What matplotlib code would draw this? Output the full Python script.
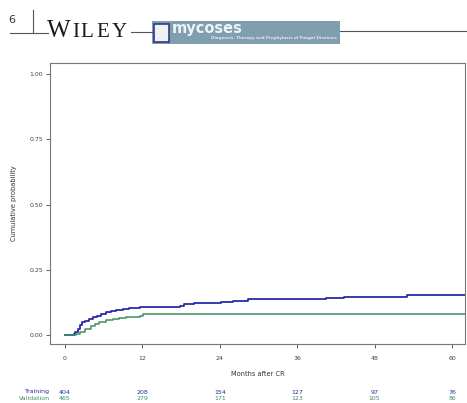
import matplotlib
matplotlib.use("Agg")
import matplotlib.pyplot as plt
from matplotlib.patches import Rectangle
from matplotlib.lines import Line2D
from matplotlib.transforms import blended_transform_factory

# ---- data ----
train_t = [0, 1.4, 1.6, 2.0, 2.4, 2.7, 3.2, 3.8, 4.3, 5.0, 5.6, 6.4, 7.2, 8.0, 9.0, 10.0, 11.6, 14.0, 17.9, 18.4, 20.0, 22.0, 24.2, 26.0, 28.4, 34.0, 40.4, 43.3, 53.0, 62.0]
train_p = [0, 0.005, 0.012, 0.025, 0.038, 0.050, 0.055, 0.062, 0.068, 0.074, 0.080, 0.087, 0.092, 0.096, 0.100, 0.103, 0.106, 0.108, 0.112, 0.120, 0.122, 0.124, 0.127, 0.130, 0.137, 0.137, 0.143, 0.147, 0.152, 0.152]
valid_t = [0, 1.7, 2.3, 3.2, 4.0, 4.7, 5.3, 6.3, 7.4, 8.4, 9.5, 10.5, 11.6, 12.1, 62.0]
valid_p = [0, 0.004, 0.012, 0.025, 0.035, 0.043, 0.050, 0.056, 0.062, 0.065, 0.068, 0.071, 0.075, 0.081, 0.081]

x_ticks = [0, 12, 24, 36, 48, 60]
y_ticks = [0.0, 0.25, 0.5, 0.75, 1.0]
y_ticklabels = ["0.00", "0.25", "0.50", "0.75", "1.00"]
risk_train = [404, 208, 154, 127, 97, 76]
risk_valid = [465, 279, 171, 123, 105, 86]

BLUE = "#2a2aa6"
GREEN = "#3f8f62"
W, H = 467, 403

fig = plt.figure(figsize=(W / 100, H / 100), dpi=100)
fig.patch.set_facecolor("white")

def fx(px):
    return px / W

def fy(py):
    return 1 - py / H

# ---- header ----
fig.text(fx(12), fy(20), "6", fontsize=8, ha="center", va="center", color="#333333")
fig.add_artist(Line2D([fx(33), fx(33)], [fy(10), fy(33)], color="#555555", lw=0.8))
fig.add_artist(Line2D([fx(10), fx(48)], [fy(33), fy(33)], color="#555555", lw=0.8))
for ch, px, fs in [("W", 47, 18), ("I", 72, 15), ("L", 80, 15), ("E", 96, 15), ("Y", 112, 15)]:
    fig.text(fx(px), fy(37), ch, fontsize=fs, family="Liberation Serif", ha="left", va="baseline", color="#1a1a1a")
fig.add_artist(Line2D([fx(131), fx(152)], [fy(32), fy(32)], color="#555555", lw=0.8))
fig.add_artist(Rectangle((fx(152), fy(44)), fx(340) - fx(152), fy(21) - fy(44), transform=fig.transFigure,
                         facecolor="#7f9fae", edgecolor="none"))
fig.add_artist(Rectangle((fx(154), fy(42)), fx(169) - fx(154), fy(24) - fy(42), transform=fig.transFigure,
                         facecolor="#eef0f6", edgecolor="#2e3a80", lw=1.2))
fig.text(fx(172), fy(28), "mycoses", fontsize=10.5, fontweight="bold", ha="left", va="center", color="#eef3f6")
fig.text(fx(337), fy(38.5), "Diagnosis, Therapy and Prophylaxis of Fungal Diseases", fontsize=2.9,
         fontweight="bold", ha="right", va="center", color="#dfe8ec")
fig.add_artist(Line2D([fx(340), fx(467)], [fy(31), fy(31)], color="#555555", lw=0.8))

# ---- plot ----
ax = fig.add_axes([fx(50), fy(344), fx(465) - fx(50), fy(63) - fy(344)])
ax.step(train_t, train_p, where="post", color=BLUE, lw=1.3)
ax.step(valid_t, valid_p, where="post", color=GREEN, lw=1.1)
ax.set_xlim(-2.3, 62.0)
ax.set_ylim(-0.034, 1.042)
ax.set_xticks(x_ticks)
ax.set_xticklabels([str(v) for v in x_ticks])
ax.set_yticks(y_ticks)
ax.set_yticklabels(y_ticklabels)
ax.tick_params(labelsize=4.5, colors="#444444", length=3, width=0.6)
ax.tick_params(axis="x", pad=6)
ax.tick_params(axis="y", pad=2)
for s in ax.spines.values():
    s.set_color("#777777")
    s.set_linewidth(0.8)
ax.set_xlabel("Months after CR", fontsize=4.8, color="#333333", labelpad=7)
ax.set_ylabel("Cumulative probability", fontsize=4.8, color="#333333", labelpad=9)

# ---- risk table ----
tr = blended_transform_factory(ax.transData, fig.transFigure)
for xv, n in zip(x_ticks, risk_train):
    ax.text(xv, fy(392), str(n), transform=tr, fontsize=4.5, color=BLUE, ha="center", va="center", clip_on=False)
for xv, n in zip(x_ticks, risk_valid):
    ax.text(xv, fy(398), str(n), transform=tr, fontsize=4.5, color=GREEN, ha="center", va="center", clip_on=False)
fig.text(fx(50), fy(392), "Training", fontsize=4.5, color=BLUE, ha="right", va="center")
fig.text(fx(50), fy(398), "Validation", fontsize=4.5, color=GREEN, ha="right", va="center")

fig.savefig("out.png", dpi=100, facecolor="white")
